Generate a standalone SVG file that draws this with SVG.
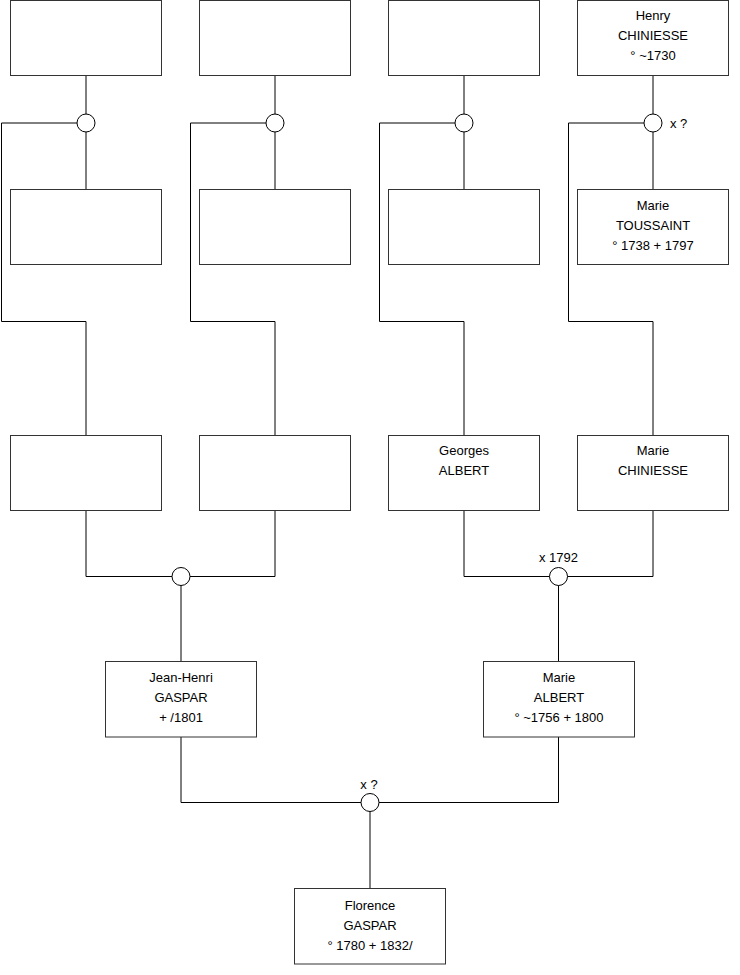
<svg xmlns="http://www.w3.org/2000/svg" width="740" height="975" viewBox="0 0 740 975">
<style>
.box{fill:#fff;stroke:#333;stroke-width:1}
.ln{fill:none;stroke:#000;stroke-width:1}
.ring{fill:#fff;stroke:#000;stroke-width:1}
text{font-family:"Liberation Sans",Arial,sans-serif;font-size:13px;fill:#000}
.c{text-anchor:middle}
</style>
<rect width="740" height="975" fill="#fff"/>
<g id="connectors">
<path class="ln" d="M86 75.5V189.5M275 75.5V189.5M464 75.5V189.5M653 75.5V189.5"/>
<path class="ln" d="M77 123H1.5V321.5H86V435.5M266 123H190.5V321.5H275V435.5M455 123H379.5V321.5H464V435.5M644 123H568.5V321.5H653V435.5"/>
<path class="ln" d="M86 510.5V576.5H275V510.5M181 576.5V661.5"/>
<path class="ln" d="M464 510.5V576.5H653V510.5M558.5 576.5V661.5"/>
<path class="ln" d="M181 737V802.5H558.5V737M370 802.5V888.5"/>
</g>
<g id="m1"><circle class="ring" cx="86" cy="123" r="9"/></g>
<g id="m2"><circle class="ring" cx="275" cy="123" r="9"/></g>
<g id="m3"><circle class="ring" cx="464" cy="123" r="9"/></g>
<g id="m4"><circle class="ring" cx="653" cy="123" r="9"/><text x="670" y="128">x ?</text></g>
<g id="m5"><circle class="ring" cx="181" cy="576.5" r="9"/></g>
<g id="m6"><circle class="ring" cx="558.5" cy="576.5" r="9"/><text class="c" x="558.5" y="562">x 1792</text></g>
<g id="m7"><circle class="ring" cx="370" cy="802.5" r="9"/><text class="c" x="369" y="789">x ?</text></g>
<g id="p1"><rect class="box" x="10.5" y="0.5" width="151" height="75"/></g>
<g id="p2"><rect class="box" x="199.5" y="0.5" width="151" height="75"/></g>
<g id="p3"><rect class="box" x="388.5" y="0.5" width="151" height="75"/></g>
<g id="p4"><rect class="box" x="577.5" y="0.5" width="151" height="75"/>
<text class="c" x="653" y="20">Henry</text><text class="c" x="653" y="40">CHINIESSE</text><text class="c" x="653" y="60">° ~1730</text></g>
<g id="p5"><rect class="box" x="10.5" y="189.5" width="151" height="75"/></g>
<g id="p6"><rect class="box" x="199.5" y="189.5" width="151" height="75"/></g>
<g id="p7"><rect class="box" x="388.5" y="189.5" width="151" height="75"/></g>
<g id="p8"><rect class="box" x="577.5" y="189.5" width="151" height="75"/>
<text class="c" x="653" y="210">Marie</text><text class="c" x="653" y="230">TOUSSAINT</text><text class="c" x="653" y="250">° 1738 + 1797</text></g>
<g id="p9"><rect class="box" x="10.5" y="435.5" width="151" height="75"/></g>
<g id="p10"><rect class="box" x="199.5" y="435.5" width="151" height="75"/></g>
<g id="p11"><rect class="box" x="388.5" y="435.5" width="151" height="75"/>
<text class="c" x="464" y="455">Georges</text><text class="c" x="464" y="475">ALBERT</text></g>
<g id="p12"><rect class="box" x="577.5" y="435.5" width="151" height="75"/>
<text class="c" x="653" y="455">Marie</text><text class="c" x="653" y="475">CHINIESSE</text></g>
<g id="p13"><rect class="box" x="105.5" y="661.5" width="151" height="75.5"/>
<text class="c" x="181" y="682">Jean-Henri</text><text class="c" x="181" y="702">GASPAR</text><text class="c" x="181" y="722">+ /1801</text></g>
<g id="p14"><rect class="box" x="483.5" y="661.5" width="151" height="75.5"/>
<text class="c" x="559" y="682">Marie</text><text class="c" x="559" y="702">ALBERT</text><text class="c" x="559" y="722">° ~1756 + 1800</text></g>
<g id="p15"><rect class="box" x="294.5" y="888.5" width="151" height="75.5"/>
<text class="c" x="370" y="910">Florence</text><text class="c" x="370" y="930">GASPAR</text><text class="c" x="370" y="950">° 1780 + 1832/</text></g>
</svg>
